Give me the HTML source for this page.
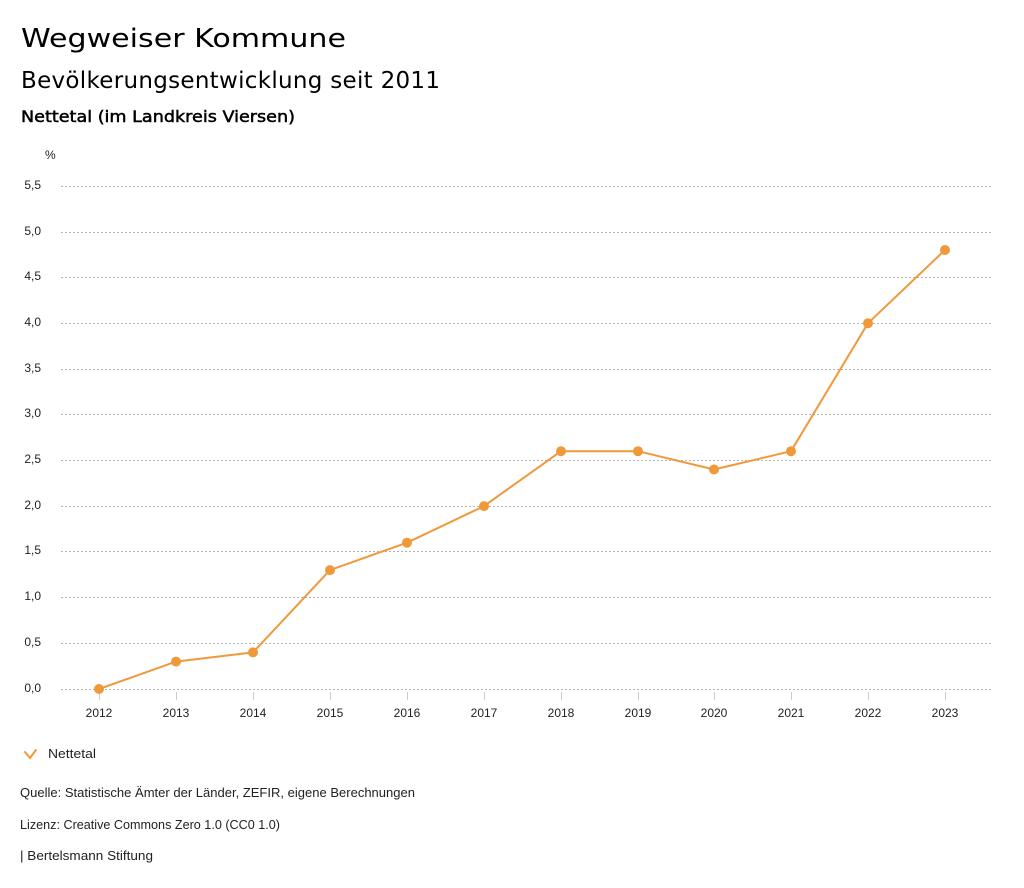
<!DOCTYPE html>
<html>
<head>
<meta charset="utf-8">
<style>
  html, body { margin: 0; padding: 0; background: #ffffff; }
  body { width: 1024px; height: 888px; overflow: hidden; }
  svg { display: block; }
  .t { font-family: "DejaVu Sans", "Liberation Sans", sans-serif; fill: #000; }
  .s { font-family: "Liberation Sans", "DejaVu Sans", sans-serif; fill: #222; }
</style>
</head>
<body>
<svg width="1024" height="888" viewBox="0 0 1024 888" xmlns="http://www.w3.org/2000/svg">
  <rect width="1024" height="888" fill="#ffffff"/>

  <!-- Titles -->
  <text class="t" x="21" y="47" font-size="25.5" textLength="325" lengthAdjust="spacingAndGlyphs">Wegweiser Kommune</text>
  <text class="t" x="21" y="88" font-size="23" textLength="419" lengthAdjust="spacing">Bevölkerungsentwicklung seit 2011</text>
  <text class="t" x="21" y="122" font-size="16" stroke="#000" stroke-width="0.5" textLength="274" lengthAdjust="spacingAndGlyphs">Nettetal (im Landkreis Viersen)</text>

  <!-- unit -->
  <text class="s" x="45" y="159" font-size="12">%</text>

  <!-- gridlines -->
  <g stroke="#b3b3b3" stroke-width="1" stroke-dasharray="2,2">
    <line x1="61" x2="991" y1="186.5" y2="186.5"/>
    <line x1="61" x2="991" y1="232.5" y2="232.5"/>
    <line x1="61" x2="991" y1="277.5" y2="277.5"/>
    <line x1="61" x2="991" y1="323.5" y2="323.5"/>
    <line x1="61" x2="991" y1="369.5" y2="369.5"/>
    <line x1="61" x2="991" y1="414.5" y2="414.5"/>
    <line x1="61" x2="991" y1="460.5" y2="460.5"/>
    <line x1="61" x2="991" y1="506.5" y2="506.5"/>
    <line x1="61" x2="991" y1="551.5" y2="551.5"/>
    <line x1="61" x2="991" y1="597.5" y2="597.5"/>
    <line x1="61" x2="991" y1="643.5" y2="643.5"/>
    <line x1="61" x2="991" y1="689.5" y2="689.5"/>
  </g>

  <!-- y labels -->
  <g class="s" font-size="12" text-anchor="end">
    <text x="41" y="189">5,5</text>
    <text x="41" y="235">5,0</text>
    <text x="41" y="280">4,5</text>
    <text x="41" y="326">4,0</text>
    <text x="41" y="372">3,5</text>
    <text x="41" y="417">3,0</text>
    <text x="41" y="463">2,5</text>
    <text x="41" y="509">2,0</text>
    <text x="41" y="554">1,5</text>
    <text x="41" y="600">1,0</text>
    <text x="41" y="646">0,5</text>
    <text x="41" y="692">0,0</text>
  </g>

  <!-- x ticks -->
  <g stroke="#cccccc" stroke-width="1">
    <line x1="99.5" x2="99.5" y1="692" y2="700"/>
    <line x1="176.5" x2="176.5" y1="692" y2="700"/>
    <line x1="253.5" x2="253.5" y1="692" y2="700"/>
    <line x1="330.5" x2="330.5" y1="692" y2="700"/>
    <line x1="407.5" x2="407.5" y1="692" y2="700"/>
    <line x1="484.5" x2="484.5" y1="692" y2="700"/>
    <line x1="561.5" x2="561.5" y1="692" y2="700"/>
    <line x1="638.5" x2="638.5" y1="692" y2="700"/>
    <line x1="714.5" x2="714.5" y1="692" y2="700"/>
    <line x1="791.5" x2="791.5" y1="692" y2="700"/>
    <line x1="868.5" x2="868.5" y1="692" y2="700"/>
    <line x1="945.5" x2="945.5" y1="692" y2="700"/>
  </g>

  <!-- x labels -->
  <g class="s" font-size="12" text-anchor="middle">
    <text x="99" y="717">2012</text>
    <text x="176" y="717">2013</text>
    <text x="253" y="717">2014</text>
    <text x="330" y="717">2015</text>
    <text x="407" y="717">2016</text>
    <text x="484" y="717">2017</text>
    <text x="561" y="717">2018</text>
    <text x="638" y="717">2019</text>
    <text x="714" y="717">2020</text>
    <text x="791" y="717">2021</text>
    <text x="868" y="717">2022</text>
    <text x="945" y="717">2023</text>
  </g>

  <!-- series -->
  <polyline fill="none" stroke="#f0993b" stroke-width="2" stroke-linejoin="round"
    points="99,689 176,661.6 253,652.4 330,570.1 407,542.7 484,506.1 561,451.2 638,451.2 714,469.5 791,451.2 868,323.2 945,250"/>
  <g fill="#f0993b">
    <circle cx="99" cy="689" r="5"/>
    <circle cx="176" cy="661.6" r="5"/>
    <circle cx="253" cy="652.4" r="5"/>
    <circle cx="330" cy="570.1" r="5"/>
    <circle cx="407" cy="542.7" r="5"/>
    <circle cx="484" cy="506.1" r="5"/>
    <circle cx="561" cy="451.2" r="5"/>
    <circle cx="638" cy="451.2" r="5"/>
    <circle cx="714" cy="469.5" r="5"/>
    <circle cx="791" cy="451.2" r="5"/>
    <circle cx="868" cy="323.2" r="5"/>
    <circle cx="945" cy="250" r="5"/>
  </g>

  <!-- legend -->
  <polyline points="25,752 30,758 36,750" fill="none" stroke="#f0993b" stroke-width="2" stroke-linecap="round" stroke-linejoin="round"/>
  <text class="s" x="48" y="758" font-size="13" textLength="48" lengthAdjust="spacingAndGlyphs">Nettetal</text>

  <!-- footer -->
  <text class="s" x="20" y="797" font-size="13" textLength="395" lengthAdjust="spacingAndGlyphs">Quelle: Statistische Ämter der Länder, ZEFIR, eigene Berechnungen</text>
  <text class="s" x="20" y="829" font-size="12.5" textLength="260" lengthAdjust="spacingAndGlyphs">Lizenz: Creative Commons Zero 1.0 (CC0 1.0)</text>
  <text class="s" x="20" y="860" font-size="13" textLength="133" lengthAdjust="spacingAndGlyphs">| Bertelsmann Stiftung</text>
</svg>
</body>
</html>
